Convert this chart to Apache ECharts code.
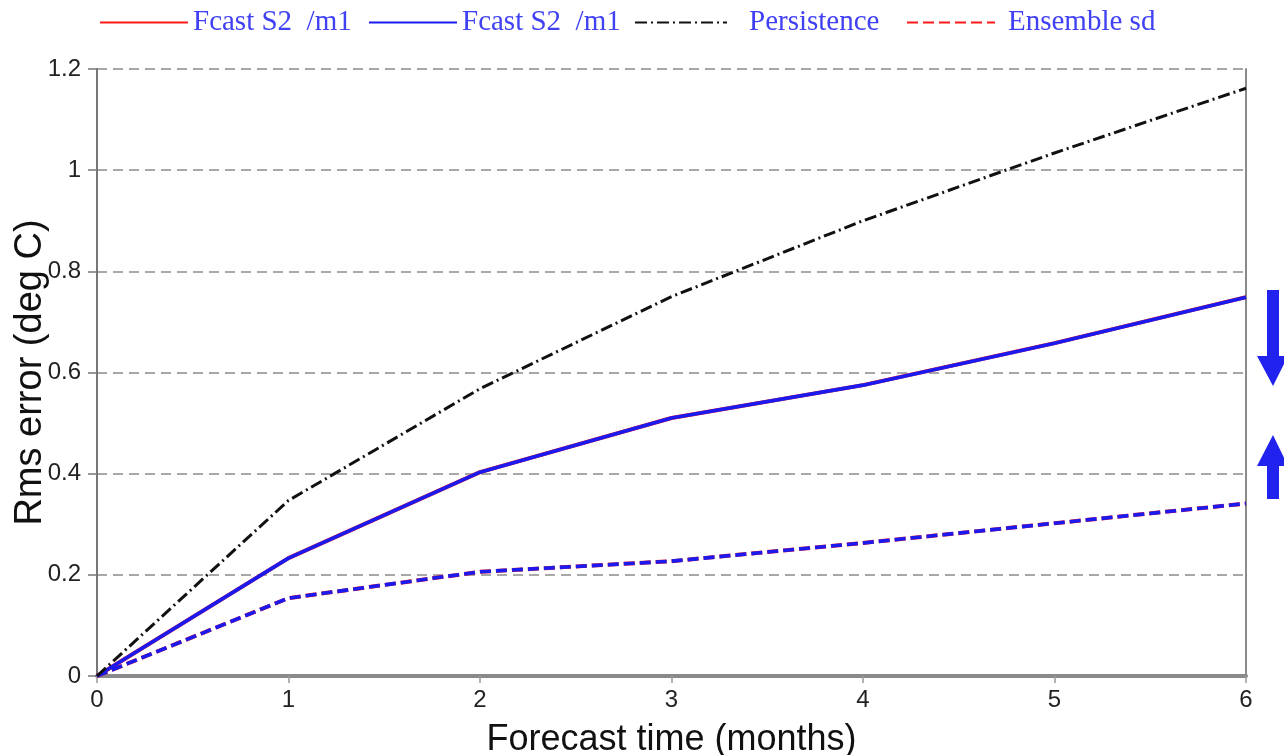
<!DOCTYPE html>
<html>
<head>
<meta charset="utf-8">
<script src="https://cdn.jsdelivr.net/npm/echarts@6/dist/echarts.min.js"></script>
<style>
  html, body { margin: 0; padding: 0; background: #fff; }
  #main { width: 1284px; height: 755px; }
</style>
</head>
<body>
<div id="main"></div>
<script>
var months = [0, 1, 2, 3, 4, 5, 6];
var yTicks = [0, 0.2, 0.4, 0.6, 0.8, 1, 1.2];

// rms error (deg C) per forecast month
var fcastRed = [0, 0.233, 0.403, 0.51, 0.575, 0.658, 0.749];
var fcastBlue = [0, 0.233, 0.403, 0.51, 0.575, 0.658, 0.749];
var persistence = [0, 0.347, 0.568, 0.75, 0.9, 1.034, 1.162];
var sdRed = [0, 0.154, 0.206, 0.227, 0.263, 0.302, 0.341];
var sdBlue = [0, 0.154, 0.206, 0.227, 0.263, 0.302, 0.341];

var legendLabels = {
	fcastRed: 'Fcast S2  /m1',
	fcastBlue: 'Fcast S2  /m1',
	persistence: 'Persistence',
	sdRed: 'Ensemble sd'
};

function pairs(arr) {
	return arr.map(function(v, i) { return [months[i], v]; });
}

var myChart = echarts.init(document.getElementById('main'));

function legendAt(name, left, width, textPad) {
	return {
		data: [name],
		left: left,
		top: 8,
		itemWidth: width,
		itemHeight: 14,
		itemGap: 0,
		padding: 0,
		textStyle: {
			fontFamily: 'Liberation Serif',
			fontSize: 29,
			color: '#4040f4',
			padding: [0, 0, 0, textPad]
		},
		itemStyle: { opacity: 0 },
		formatter: function(n) { return legendLabels[n]; }
	};
}

var option = {
	animation: false,
	backgroundColor: '#fff',
	legend: [
		legendAt('fcastRed', 99, 88, 0),
		legendAt('fcastBlue', 368, 88, 0),
		legendAt('persistence', 634, 92, 17),
		legendAt('sdRed', 906, 88, 8)
	],
	grid: {
		left: 97,
		right: 38,
		top: 69,
		bottom: 79,
		outerBoundsMode: 'none'
	},
	xAxis: {
		type: 'value',
		min: 0,
		max: 6,
		interval: 1,
		name: 'Forecast time (months)',
		nameLocation: 'middle',
		nameGap: 46,
		nameMoveOverlap: false,
		nameTextStyle: { fontFamily: 'Liberation Sans', fontSize: 36, color: '#111' },
		axisLine: { show: true, lineStyle: { color: '#8a8a8a', width: 4 } },
		axisTick: { show: true, length: 7, lineStyle: { color: '#999', width: 1.5 } },
		axisLabel: { margin: 12, fontFamily: 'Liberation Sans', fontSize: 24, color: '#222' },
		splitLine: { show: false }
	},
	yAxis: [{
		type: 'value',
		min: 0,
		max: 1.2,
		interval: 0.2,
		name: 'Rms error (deg C)',
		nameLocation: 'middle',
		nameGap: 47,
		nameMoveOverlap: false,
		nameTextStyle: { fontFamily: 'Liberation Sans', fontSize: 38, color: '#111' },
		axisLine: { show: true, lineStyle: { color: '#777', width: 2 } },
		axisTick: { show: true, length: 9, lineStyle: { color: '#777', width: 1.5 } },
		axisLabel: {
			margin: 16,
			fontFamily: 'Liberation Sans',
			fontSize: 24,
			color: '#222',
			formatter: function(v) { return String(+v.toFixed(1)); }
		},
		splitLine: { show: true, lineStyle: { color: '#8c8c8c', width: 1.5, type: [10, 6] } }
	}, {
		type: 'value',
		min: 0,
		max: 1.2,
		interval: 0.2,
		position: 'right',
		axisLine: { show: true, lineStyle: { color: '#8a8a8a', width: 2 } },
		axisTick: { show: false },
		axisLabel: { show: false },
		splitLine: { show: false }
	}],
	series: [{
		name: 'fcastRed',
		type: 'line',
		symbol: 'none',
		color: '#ff1a1a',
		lineStyle: { color: '#ff1a1a', width: 4, type: 'solid' },
		data: pairs(fcastRed)
	}, {
		name: 'sdRed',
		type: 'line',
		symbol: 'none',
		color: '#ff1a1a',
		lineStyle: { color: '#ff1a1a', width: 4, type: [11, 5] },
		data: pairs(sdRed)
	}, {
		name: 'fcastBlue',
		type: 'line',
		symbol: 'none',
		color: '#1a1aee',
		lineStyle: { color: '#1a1aee', width: 3.6, type: 'solid' },
		data: pairs(fcastBlue)
	}, {
		name: 'sdBlue',
		type: 'line',
		symbol: 'none',
		color: '#1a1aee',
		lineStyle: { color: '#1a1aee', width: 3.6, type: [11, 5] },
		data: pairs(sdBlue)
	}, {
		name: 'persistence',
		type: 'line',
		symbol: 'none',
		color: '#111',
		lineStyle: { color: '#111', width: 3, type: [12, 4, 2, 4] },
		data: pairs(persistence)
	}],
	graphic: [{
		// down arrow
		type: 'polygon',
		shape: { points: [[1267, 290], [1279, 290], [1279, 356], [1288, 356], [1273, 386], [1257, 356], [1267, 356]] },
		style: { fill: '#2222ee' }
	}, {
		// up arrow
		type: 'polygon',
		shape: { points: [[1273, 435], [1288, 466], [1279, 466], [1279, 499], [1267, 499], [1267, 466], [1257, 466]] },
		style: { fill: '#2222ee' }
	}]
};

myChart.setOption(option);
</script>
</body>
</html>
